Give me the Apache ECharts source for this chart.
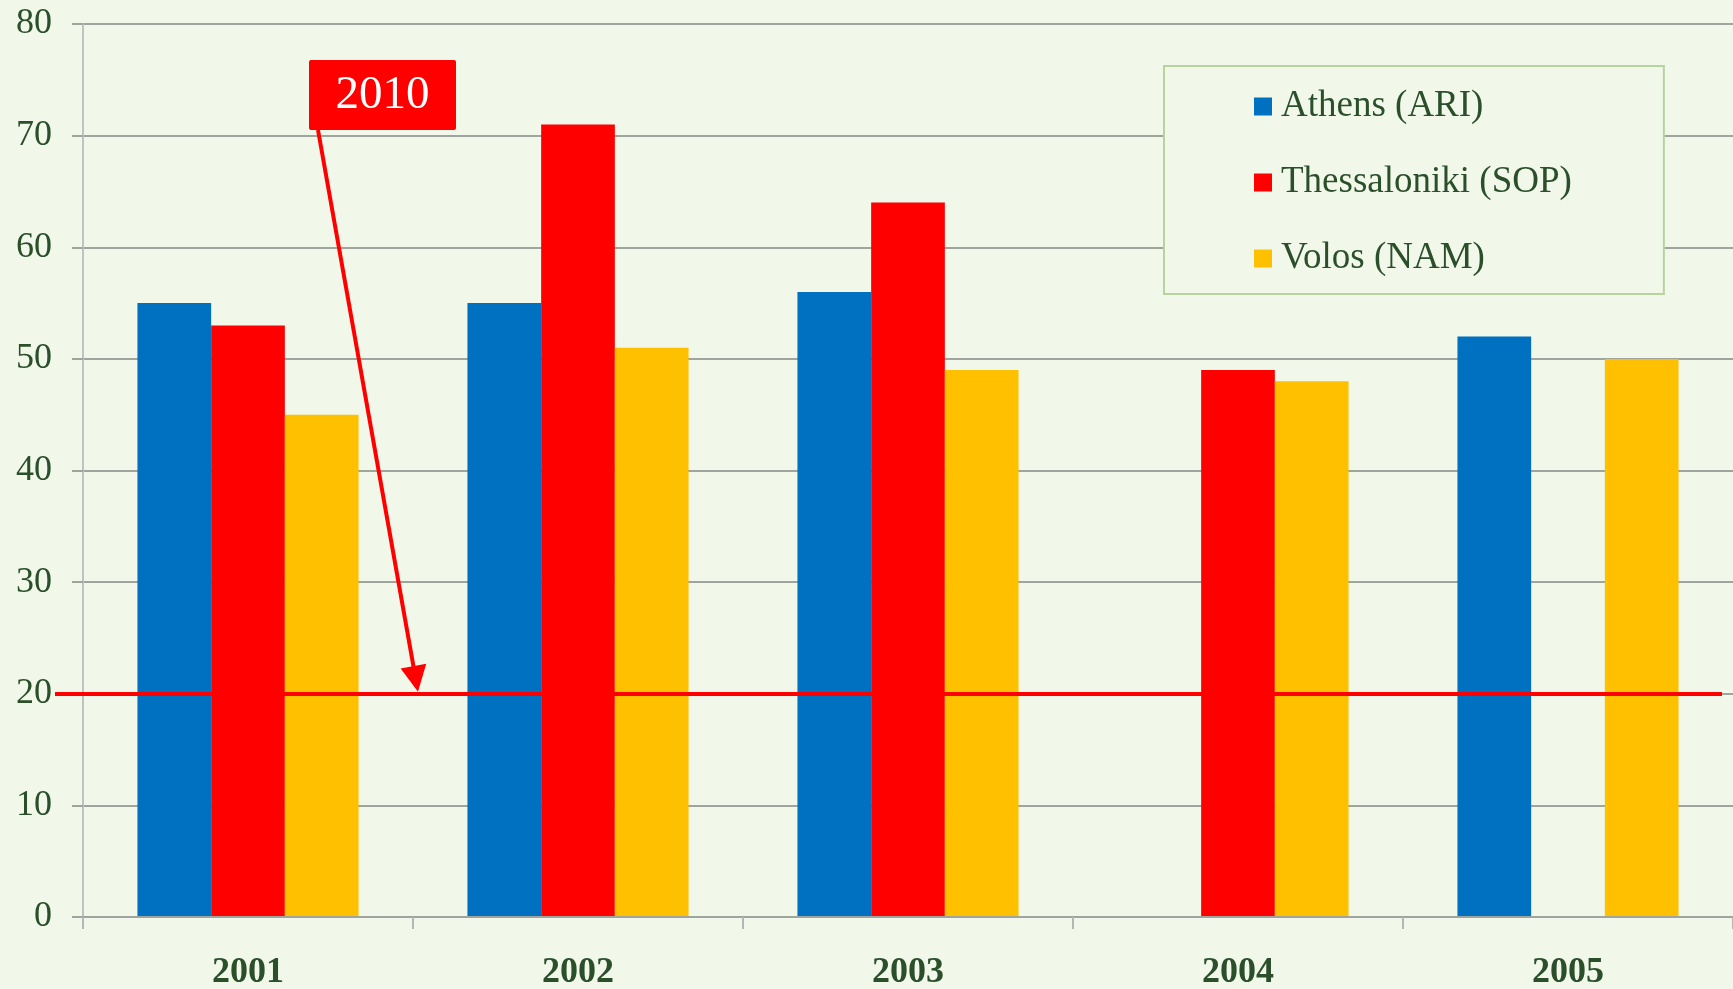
<!DOCTYPE html>
<html>
<head>
<meta charset="utf-8">
<script src="https://cdn.jsdelivr.net/npm/echarts@6/dist/echarts.min.js"></script>
<style>
  html, body { margin: 0; padding: 0; background: #f1f7e9; }
  #chart { width: 1733px; height: 989px; }
</style>
</head>
<body>
<div id="chart"></div>
<script>
// Annual values per station
const years = ['2001', '2002', '2003', '2004', '2005'];
const athens = [55, 55, 56, null, 52];
const thessaloniki = [53, 71, 64, 49, null];
const volos = [45, 51, 49, 48, 50];
const seriesNames = ['Athens (ARI)', 'Thessaloniki (SOP)', 'Volos (NAM)'];
const limitValue = 20;
const limitLabel = '2010';

const BG = '#f1f7e9';
const FONT = 'Liberation Serif';
const TEXT = '#2a4f2a';
const GRID = '#a0a49f';

const chart = echarts.init(document.getElementById('chart'));

function bar(name, data, color, extra) {
  return Object.assign({
    name: name,
    type: 'bar',
    data: data,
    barGap: '0%',
    barCategoryGap: '33%',
    itemStyle: { color: color },
    emphasis: { disabled: true }
  }, extra || {});
}

chart.setOption({
  backgroundColor: BG,
  animation: false,
  grid: { left: 83, right: 0, top: 24, bottom: 72, containLabel: false, outerBoundsMode: 'none' },
  legend: {
    orient: 'vertical',
    left: 1164,
    top: 66,
    data: seriesNames,
    icon: 'rect',
    itemWidth: 18,
    itemHeight: 18,
    itemGap: 39,
    padding: [22, 92, 17, 90],
    backgroundColor: BG,
    borderColor: '#b7d49f',
    borderWidth: 2,
    borderRadius: 0,
    selectedMode: false,
    textStyle: { fontFamily: FONT, fontSize: 37, color: TEXT, padding: [0, 0, 0, 4] }
  },
  xAxis: {
    type: 'category',
    data: years,
    z: 3,
    axisLine: { lineStyle: { color: GRID, width: 2 } },
    axisTick: { show: true, length: 12, interval: 0, lineStyle: { color: '#b4b7b3', width: 2 } },
    axisLabel: { fontFamily: FONT, fontSize: 36, fontWeight: 'bold', color: TEXT, margin: 38 },
    splitLine: { show: false }
  },
  yAxis: {
    type: 'value',
    min: 0,
    max: 80,
    interval: 10,
    axisLine: { show: true, lineStyle: { color: '#bfc2be', width: 2 } },
    axisTick: { show: true, length: 11, lineStyle: { color: GRID, width: 2 } },
    axisLabel: { fontFamily: FONT, fontSize: 36, color: TEXT, margin: 31 },
    splitLine: { lineStyle: { color: GRID, width: 2 } }
  },
  series: [
    bar(seriesNames[0], athens, '#0070c0'),
    bar(seriesNames[1], thessaloniki, '#ff0000'),
    bar(seriesNames[2], volos, '#ffc000', {
      markLine: {
        silent: true,
        symbol: 'none',
        label: { show: false },
        lineStyle: { color: '#ff0000', width: 4, type: 'solid' },
        data: [[{ x: 55, yAxis: limitValue }, { x: 1722, yAxis: limitValue }]]
      }
    })
  ]
});

// Callout box with an arrow pointing at the limit line between 2001 and 2002
function drawCallout() {
  const p1 = chart.convertToPixel({ xAxisIndex: 0, yAxisIndex: 0 }, [years[0], limitValue]);
  const p2 = chart.convertToPixel({ xAxisIndex: 0, yAxisIndex: 0 }, [years[1], limitValue]);
  const tip = [(p1[0] + p2[0]) / 2 + 5, p1[1] - 2];
  const box = { x: 309, y: 60, width: 147, height: 70 };
  const start = [box.x + 9, box.y + box.height];
  const dx = tip[0] - start[0], dy = tip[1] - start[1];
  const len = Math.sqrt(dx * dx + dy * dy);
  const ux = dx / len, uy = dy / len;
  const headLen = 26, headHalf = 13;
  const base = [tip[0] - ux * headLen, tip[1] - uy * headLen];
  const nx = -uy, ny = ux;

  chart.setOption({
    graphic: [
      {
        type: 'line',
        z: 10,
        shape: { x1: start[0], y1: start[1], x2: base[0] + ux * 4, y2: base[1] + uy * 4 },
        style: { stroke: '#ff0000', lineWidth: 4 }
      },
      {
        type: 'polygon',
        z: 10,
        shape: {
          points: [
            tip,
            [base[0] + nx * headHalf, base[1] + ny * headHalf],
            [base[0] - nx * headHalf, base[1] - ny * headHalf]
          ]
        },
        style: { fill: '#ff0000' }
      },
      {
        type: 'rect',
        z: 11,
        shape: { x: box.x, y: box.y, width: box.width, height: box.height, r: 2 },
        style: { fill: '#ff0000' }
      },
      {
        type: 'text',
        z: 12,
        x: box.x + box.width / 2,
        y: box.y + box.height / 2 + 1,
        style: {
          text: limitLabel,
          fill: '#ffffff',
          font: '47px "Liberation Serif"',
          align: 'center',
          verticalAlign: 'middle'
        }
      }
    ]
  });
}
drawCallout();
</script>
</body>
</html>
